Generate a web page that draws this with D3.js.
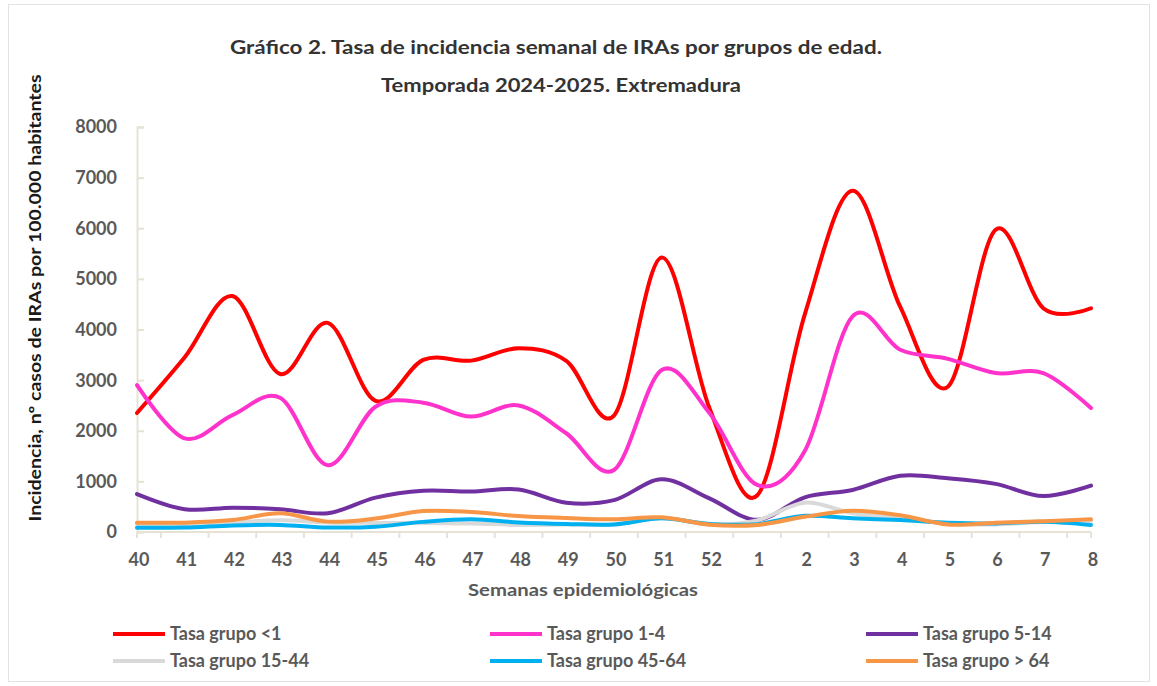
<!DOCTYPE html>
<html>
<head>
<meta charset="utf-8">
<script src="https://cdn.jsdelivr.net/npm/d3@7"></script>
<style>
  html, body { margin: 0; padding: 0; background: #fff; }
  #container { width: 1157px; height: 686px; }
  text { font-family: Lato, "Open Sans", sans-serif; }
</style>
</head>
<body>
<div id="container"></div>
<script>
"use strict";

// weeks of the 2024-2025 season (40..52 then 1..8)
const weeks = ["40","41","42","43","44","45","46","47","48","49","50","51","52","1","2","3","4","5","6","7","8"];

// rates per age group
const grupoMenor1 = [2350, 3450, 4660, 3120, 4130, 2590, 3400, 3385, 3630, 3380, 2300, 5420, 2450, 720, 4300, 6740, 4450, 2870, 5970, 4420, 4420];
const grupo1a4    = [2900, 1850, 2310, 2650, 1320, 2475, 2555, 2280, 2500, 1950, 1225, 3200, 2350, 930, 1600, 4260, 3600, 3420, 3140, 3140, 2450];
const grupo5a14   = [750, 450, 480, 450, 370, 680, 815, 800, 840, 580, 630, 1040, 665, 240, 685, 830, 1110, 1060, 950, 710, 915];
const grupo15a44  = [150, 150, 190, 230, 190, 180, 180, 170, 140, 150, 150, 270, 150, 230, 580, 370, 280, 170, 150, 200, 220];
const grupo45a64  = [85, 90, 130, 140, 90, 105, 200, 250, 190, 160, 150, 270, 160, 155, 320, 270, 235, 185, 170, 200, 140];
const grupoMayor64 = [185, 185, 235, 370, 205, 265, 415, 395, 315, 275, 250, 290, 145, 140, 300, 420, 330, 150, 185, 210, 250];

const seriesNames = ["Tasa grupo <1", "Tasa grupo 1-4", "Tasa grupo 5-14",
                     "Tasa grupo 15-44", "Tasa grupo 45-64", "Tasa grupo > 64"];
const seriesColors = ["#ff0000", "#ff33cc", "#7030a0", "#d9d9d9", "#00b0f0", "#f79646"];
const yTicks = [0, 1000, 2000, 3000, 4000, 5000, 6000, 7000, 8000];

const series = [grupoMenor1, grupo1a4, grupo5a14, grupo15a44, grupo45a64, grupoMayor64]
    .map((vals, i) => ({ name: seriesNames[i], color: seriesColors[i], values: vals }));

const W = 1157, H = 686;
const plot = { left: 137, right: 1091, top: 127, bottom: 532 };
const axisColor = "#e6e3d6";
const labelColor = "#595959";

const svg = d3.select("#container").append("svg")
    .attr("width", W)
    .attr("height", H);

// faint outer frame
svg.append("rect")
    .attr("x", 8.5).attr("y", 4.5)
    .attr("width", 1141).attr("height", 677)
    .attr("fill", "none")
    .attr("stroke", "#e3e3e3");

const x = d3.scalePoint()
    .domain(weeks)
    .range([plot.left, plot.right]);

const y = d3.scaleLinear()
    .domain([0, 8000])
    .range([plot.bottom, plot.top]);

// title
const title = svg.append("g")
    .attr("font-weight", "bold")
    .attr("fill", "#333333")
    .attr("font-size", 19)
    .attr("text-anchor", "middle");
title.append("text")
    .attr("x", 556).attr("y", 54)
    .attr("textLength", 652).attr("lengthAdjust", "spacingAndGlyphs")
    .text("Gráfico 2. Tasa de incidencia semanal de IRAs por grupos de edad.");
title.append("text")
    .attr("x", 561).attr("y", 92)
    .attr("textLength", 360).attr("lengthAdjust", "spacingAndGlyphs")
    .text("Temporada 2024-2025. Extremadura");

// y axis
const yAxis = svg.append("g")
    .attr("transform", `translate(${plot.left},0)`)
    .call(d3.axisRight(y).tickValues(yTicks).tickSize(7).tickFormat(""));
yAxis.selectAll("path, line").attr("stroke", axisColor).attr("stroke-width", 2);

svg.append("g")
    .selectAll("text")
    .data(yTicks)
    .enter().append("text")
        .attr("x", 117)
        .attr("y", d => y(d))
        .attr("dy", "0.36em")
        .attr("text-anchor", "end")
        .attr("font-size", 18)
        .attr("font-weight", "bold")
        .attr("fill", labelColor)
        .text(d => d);

svg.append("text")
    .attr("transform", "translate(41,298) rotate(-90)")
    .attr("text-anchor", "middle")
    .attr("font-family", "'Liberation Sans', Arial, sans-serif")
    .attr("font-weight", "bold")
    .attr("font-size", 17)
    .attr("fill", "#1a1a1a")
    .attr("textLength", 447).attr("lengthAdjust", "spacingAndGlyphs")
    .text("Incidencia,  nº casos de IRAs por 100.000 habitantes");

// x axis: tick marks between categories, labels on categories
const step = x.step();
const tickPos = [plot.left].concat(weeks.slice(1).map(w => x(w) - step / 2), [plot.right]);
svg.append("line")
    .attr("x1", plot.left).attr("x2", plot.right)
    .attr("y1", plot.bottom).attr("y2", plot.bottom)
    .attr("stroke", axisColor).attr("stroke-width", 2);
svg.append("g")
    .selectAll("line")
    .data(tickPos)
    .enter().append("line")
        .attr("x1", d => d).attr("x2", d => d)
        .attr("y1", plot.bottom).attr("y2", plot.bottom + 6)
        .attr("stroke", axisColor).attr("stroke-width", 2);

svg.append("g")
    .selectAll("text")
    .data(weeks)
    .enter().append("text")
        .attr("x", d => x(d) + 2)
        .attr("y", 566)
        .attr("text-anchor", "middle")
        .attr("font-size", 18)
        .attr("font-weight", "bold")
        .attr("fill", labelColor)
        .text(d => d);

svg.append("text")
    .attr("x", 583).attr("y", 596)
    .attr("text-anchor", "middle")
    .attr("font-size", 17)
    .attr("font-weight", "bold")
    .attr("fill", labelColor)
    .attr("textLength", 230).attr("lengthAdjust", "spacingAndGlyphs")
    .text("Semanas epidemiológicas");

// series lines (Excel-style smoothing)
const line = d3.line()
    .x((d, i) => x(weeks[i]))
    .y(d => y(d))
    .curve(d3.curveCardinal.tension(0));

svg.append("g")
    .selectAll("path")
    .data(series)
    .enter().append("path")
        .attr("d", d => line(d.values))
        .attr("fill", "none")
        .attr("stroke", d => d.color)
        .attr("stroke-width", 4)
        .attr("stroke-linecap", "round")
        .attr("stroke-linejoin", "round");

// legend, 3 columns x 2 rows
const legendCols = [113, 490, 866],
    legendRows = [634, 661];
const legend = svg.append("g")
    .selectAll("g")
    .data(series)
    .enter().append("g")
        .attr("transform", (d, i) => `translate(${legendCols[i % 3]}, ${legendRows[Math.floor(i / 3)]})`);
legend.append("line")
    .attr("x1", 0).attr("x2", 52)
    .attr("stroke", d => d.color)
    .attr("stroke-width", 4);
legend.append("text")
    .attr("x", 57)
    .attr("dy", "0.36em")
    .attr("font-size", 18)
    .attr("font-weight", "bold")
    .attr("fill", labelColor)
    .text(d => d.name);
</script>
</body>
</html>
